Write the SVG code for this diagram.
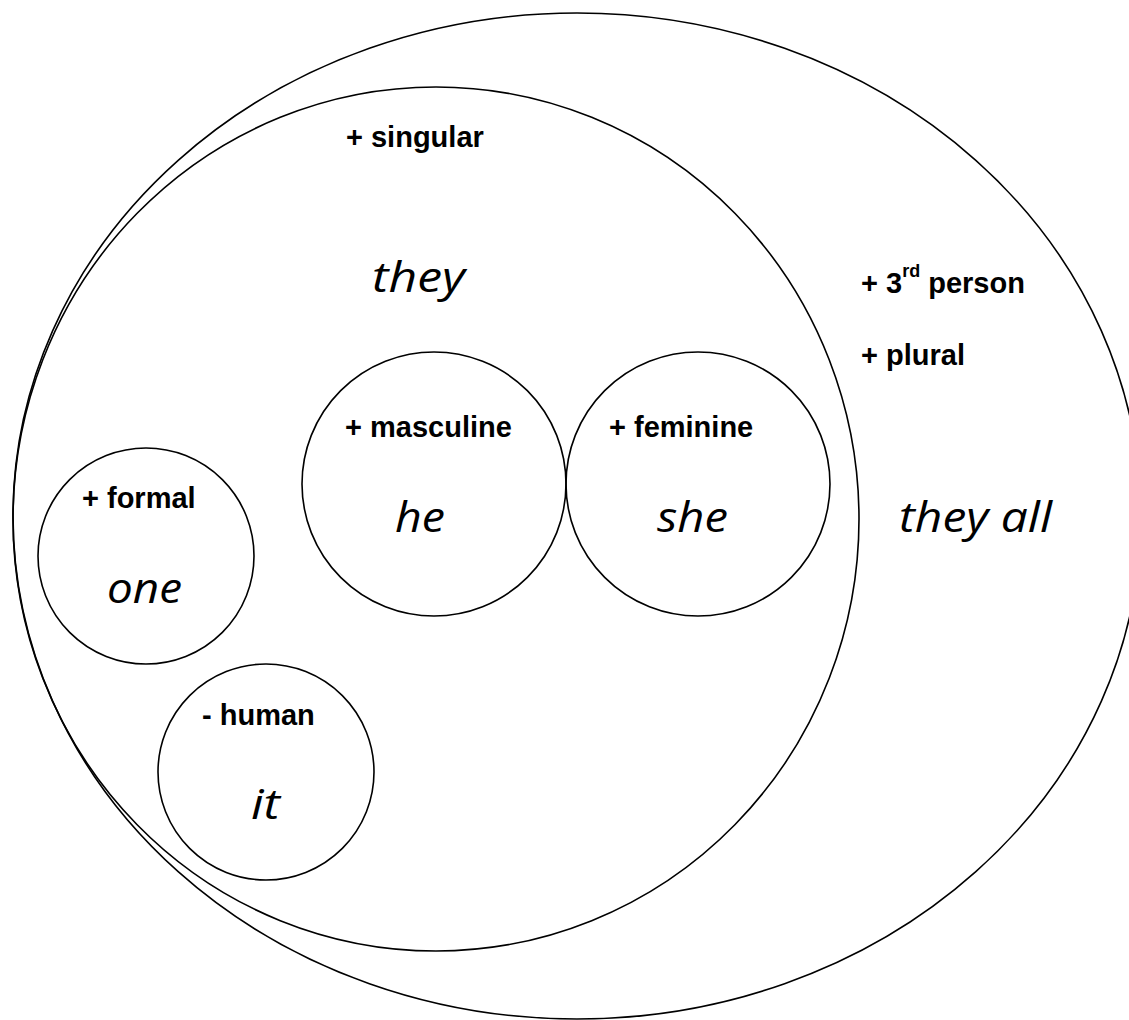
<svg xmlns="http://www.w3.org/2000/svg" width="1129" height="1020" viewBox="0 0 1129 1020">
<style>
.c{fill:none;stroke:#000;stroke-width:1.6}
.b{font-family:"Liberation Sans",Arial,sans-serif;font-weight:bold;font-size:29px;fill:#000}
.i{font-family:"Open Sans","Noto Sans",sans-serif;font-style:italic;font-size:42px;fill:#000}
.s{font-size:18px}
</style>
<rect width="1129" height="1020" fill="#fff"/>
<g id="plural">
<ellipse class="c" cx="577" cy="516" rx="564" ry="503"/>
<text class="b" x="861" y="293">+ 3<tspan class="s" dy="-16">rd</tspan><tspan dy="16"> person</tspan></text>
<text class="b" x="861" y="365">+ plural</text>
<text class="i" x="899" y="532" textLength="153" lengthAdjust="spacingAndGlyphs">they all</text>
</g>
<g id="singular">
<ellipse class="c" cx="436" cy="519" rx="423" ry="432"/>
<text class="b" x="346" y="147">+ singular</text>
<text class="i" x="372" y="292" textLength="93" lengthAdjust="spacingAndGlyphs">they</text>
</g>
<g id="masculine">
<circle class="c" cx="434" cy="484" r="132"/>
<text class="b" x="345" y="437">+ masculine</text>
<text class="i" x="395" y="532" textLength="50" lengthAdjust="spacingAndGlyphs">he</text>
</g>
<g id="feminine">
<circle class="c" cx="698" cy="484" r="132"/>
<text class="b" x="609" y="437">+ feminine</text>
<text class="i" x="657" y="532" textLength="71" lengthAdjust="spacingAndGlyphs">she</text>
</g>
<g id="formal">
<circle class="c" cx="146" cy="556" r="108"/>
<text class="b" x="82" y="508">+ formal</text>
<text class="i" x="107" y="603" textLength="75" lengthAdjust="spacingAndGlyphs">one</text>
</g>
<g id="human">
<circle class="c" cx="266" cy="772" r="108"/>
<text class="b" x="202" y="725">- human</text>
<text class="i" x="251" y="819" textLength="29" lengthAdjust="spacingAndGlyphs">it</text>
</g>
<g id="connectors"/>
</svg>
